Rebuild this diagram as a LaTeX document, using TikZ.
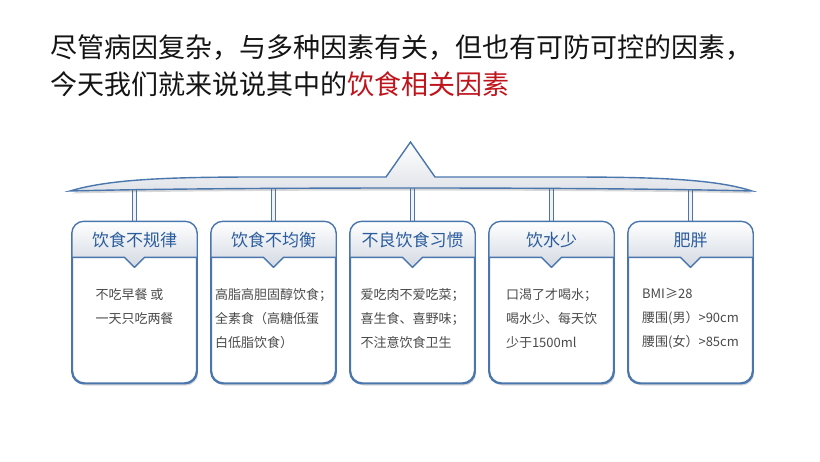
\documentclass[tikz,border=0pt]{standalone}
\usepackage{fontspec}
\setmainfont{Noto Sans CJK SC}
\usetikzlibrary{shadows}
\definecolor{cardblue}{HTML}{4A76AE}
\definecolor{headblue}{HTML}{2B5C9E}
\definecolor{bodygray}{HTML}{4A4A4A}
\definecolor{hdgray}{HTML}{D3D9E2}
\definecolor{bargray}{HTML}{E0E3E8}
\definecolor{titlered}{HTML}{C0141C}
\pgfdeclarelayer{background}
\pgfsetlayers{background,main}
\begin{document}
\begin{tikzpicture}[x=1pt,y=-1pt,
  title/.style={font=\fontsize{27}{30}\selectfont,inner sep=0pt,anchor=west,text=black!92},
  softshadow/.style={drop shadow={shadow xshift=1.5pt,shadow yshift=-2.5pt,opacity=0.22,fill=black!70}},
  card/.style={draw=cardblue,line width=1.4pt,fill=white,rounded corners=12pt,
    minimum width=124pt,minimum height=161pt,inner sep=0pt,softshadow},
  headtxt/.style={font=\fontsize{17}{20}\selectfont,text=headblue,inner sep=0pt},
  bodytxt/.style={font=\fontsize{13}{24}\selectfont,text=bodygray,align=left,inner sep=0pt,anchor=north},
  link/.style={draw=cardblue,line width=1.3pt,double=gray!10,double distance=2.6pt}]
\useasboundingbox (0,0) rectangle (820,461);
% title lines
\node[title] (l1) at (50,48) {尽管病因复杂，与多种因素有关，但也有可防可控的因素，};
\node[title] (l2) at (50,84) {今天我们就来说说其中的\textcolor{titlered}{饮食相关因素}};
% brace bar with its peak
\path[draw=cardblue,line width=1.4pt,top color=white,bottom color=bargray,softshadow]
  (70,191) .. controls (110,179) and (170,177) .. (260,177) -- (386,177) -- (410.5,142)
  -- (435,177) -- (565,177) .. controls (655,177) and (715,179) .. (752,191)
  .. controls (600,187) and (220,187) .. (70,191) -- cycle;
% five cards
\foreach \i/\x/\head/\body in {
  1/134.5/饮食不规律/{不吃早餐 或\\一天只吃两餐},
  2/273.5/饮食不均衡/{高脂高胆固醇饮食；\\全素食（高糖低蛋\\白低脂饮食）},
  3/412.5/不良饮食习惯/{爱吃肉不爱吃菜；\\喜生食、喜野味；\\不注意饮食卫生},
  4/551.5/饮水少/{口渴了才喝水；\\喝水少、每天饮\\少于1500ml},
  5/690.5/肥胖/{BMI≥28\\腰围(男）>90cm\\腰围(女）>85cm}}{
  \coordinate (j\i) at (\x,186);
  \node[card] (b\i) at (\x,302.5) {};
  \begin{scope}
    \clip[rounded corners=12pt] (b\i.south west) rectangle (b\i.north east);
    \fill[top color=white,bottom color=hdgray] (b\i.north west) -- (b\i.north east)
      -- ([yshift=-36pt]b\i.north east) -- ([shift={(10pt,-36pt)}]b\i.north)
      -- ([yshift=-46pt]b\i.north) -- ([shift={(-10pt,-36pt)}]b\i.north)
      -- ([yshift=-36pt]b\i.north west) -- cycle;
  \end{scope}
  \draw[cardblue,line width=1.4pt,line join=round] ([yshift=-36pt]b\i.north west)
    -- ([shift={(-10pt,-36pt)}]b\i.north) -- ([yshift=-46pt]b\i.north)
    -- ([shift={(10pt,-36pt)}]b\i.north) -- ([yshift=-36pt]b\i.north east);
  \draw[cardblue,line width=1.4pt,rounded corners=12pt] (b\i.south west) rectangle (b\i.north east);
  \node[headtxt] (h\i) at ([yshift=-19pt]b\i.north) {\head};
  \node[bodytxt] (t\i) at ([yshift=-67pt]b\i.north) {\body};
}
% stems from the bar down to the cards
\begin{pgfonlayer}{background}
\foreach \i in {1,...,5} \draw[link] (j\i) -- (b\i.north);
\end{pgfonlayer}
\end{tikzpicture}
\end{document}
